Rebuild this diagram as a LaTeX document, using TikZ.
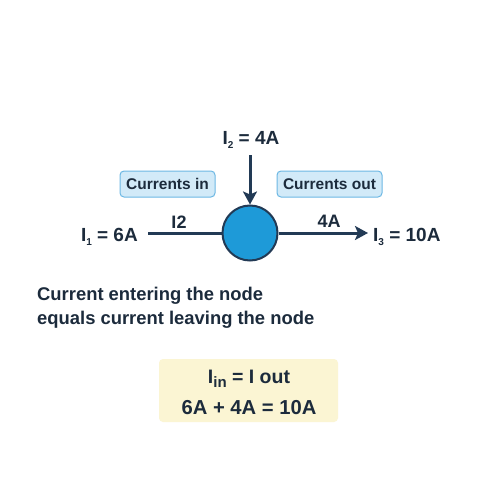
\documentclass[tikz,border=0pt]{standalone}
\usepackage{fontspec}
\setmainfont{Liberation Sans}
\usetikzlibrary{arrows.meta}
\definecolor{ink}{HTML}{1C2B3C}
\definecolor{wire}{HTML}{223A55}
\definecolor{nodeblue}{HTML}{1E9AD8}
\definecolor{tagfill}{HTML}{D2EAF8}
\definecolor{tagline}{HTML}{6DB8E4}
\definecolor{eqfill}{HTML}{FBF5D3}
\tikzset{
  lbl/.style={text=ink, font=\fontsize{19}{22}\selectfont\bfseries, inner sep=0pt},
  small/.style={text=ink, font=\fontsize{18}{21}\selectfont\bfseries, inner sep=0pt},
  tag/.style={draw=tagline, fill=tagfill, line width=1pt, rounded corners=4pt,
    minimum width=95pt, minimum height=26pt, text=ink,
    font=\fontsize{15.5}{18}\selectfont\bfseries, inner sep=0pt},
  wireline/.style={draw=wire, line width=3pt},
  arr/.style={wireline, -{Stealth[length=13pt,width=14pt,inset=3pt]}},
}
\newcommand{\mysub}[1]{\raisebox{-3.5pt}{\fontsize{10}{11}\selectfont #1}}
\begin{document}
\begin{tikzpicture}[x=1pt,y=-1pt]
\useasboundingbox (0,0) rectangle (500,500);
\fill[white] (0,0) rectangle (500,500);
% junction node
\node[circle, draw=wire, fill=nodeblue, line width=2pt, minimum size=55pt, inner sep=0pt] (J) at (250,233) {};
% labels
\node[lbl] (I2) at (251,140) {I\mysub{2} = 4A};
\node[lbl, anchor=east] (I1) at (138,237) {I\mysub{1} = 6A};
\node[lbl, anchor=west] (I3) at (373,237) {I\mysub{3} = 10A};
\coordinate (Lstart) at (148,233);
\coordinate (Rend) at (368,233);
\coordinate (Vtop) at (250,155);
\draw[wireline] (Lstart) -- (J.west);
\draw[arr] (J.east) -- (Rend);
\draw[arr] (Vtop) -- (J.north);
\node[small] (w1) at (179,222) {I2};
\node[small] (w2) at (329,221) {4A};
% tags
\node[tag] (tin) at (167.5,184) {Currents in};
\node[tag, minimum width=105pt] (tout) at (329.5,184) {Currents out};
% statement
\node[text=ink, font=\fontsize{18.4}{23.5}\selectfont\bfseries, align=left, anchor=north west, inner sep=0pt] (stmt) at (37,287) {Current entering the node\\equals current leaving the node};
% equation box
\node[fill=eqfill, rounded corners=4pt, minimum width=179pt, minimum height=63pt, inner sep=0pt] (eqbox) at (248.5,390.5) {};
\node[text=ink, font=\fontsize{19.5}{22}\selectfont\bfseries, inner sep=0pt] (eq1) at (249,379) {I\raisebox{-4pt}{\fontsize{15}{16}\selectfont in} = I out};
\node[text=ink, font=\fontsize{20.2}{22}\selectfont\bfseries, inner sep=0pt] (eq2) at (249,408) {6A + 4A = 10A};
\end{tikzpicture}
\end{document}
